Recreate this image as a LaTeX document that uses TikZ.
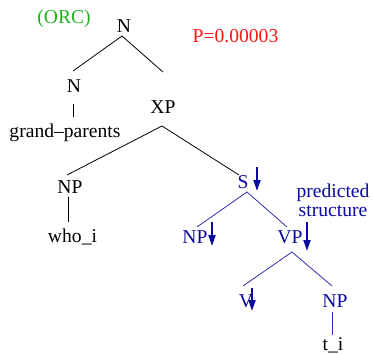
\documentclass[tikz,border=0pt]{standalone}
\usepackage{fontspec}
\setmainfont{Liberation Serif}
\usetikzlibrary{arrows.meta}
\definecolor{predblue}{RGB}{10,10,160}
\definecolor{orcgreen}{RGB}{30,180,30}
\definecolor{probred}{RGB}{255,20,20}
\begin{document}
\begin{tikzpicture}[x=1pt,y=-1pt,
  lbl/.style={inner sep=0pt,anchor=base,font=\fontsize{19.6}{22}\selectfont},
  pred/.style={lbl,text=predblue},
  branch/.style={draw=black,line width=0.8pt},
  predbranch/.style={draw=predblue!85!white,line width=0.8pt},
  foot/.style={draw=predblue,line width=2pt,-{Triangle[length=11pt,width=7pt]}}]
\useasboundingbox (0,0) rectangle (373,354);

% labels
\node[lbl,text=orcgreen] (orc) at (64,23.5) {(ORC)};
\node[lbl,text=probred] (prob) at (235.5,42) {P=0.00003};

% committed part of the tree
\node[lbl] (nroot) at (124,32) {N};
\node[lbl] (nchild) at (74,92) {N};
\node[lbl] (gp) at (65,137.5) {grand--parents};
\node[lbl] (xp) at (163,113) {XP};
\node[lbl] (npw) at (70,193) {NP};
\node[lbl] (who) at (72.5,242) {who\_i};

% predicted part
\node[pred] (s) at (243,188) {S};
\node[pred] (nps) at (195,243) {NP};
\node[pred] (vp) at (290,243) {VP};
\node[pred] (v) at (246,307) {V};
\node[pred] (npo) at (335,307) {NP};
\node[lbl] (trace) at (333,350) {t\_i};
\node[pred,align=center,anchor=north] (note) at (333,183.5) {predicted\\[-3pt]structure};

% branch end points
\coordinate (nroot-b) at (122,36);
\coordinate (nchild-t) at (73,71);
\coordinate (xp-t) at (163,72);
\coordinate (nchild-b) at (73,104);
\coordinate (gp-t) at (73,117);
\coordinate (xp-b) at (162,126);
\coordinate (npw-t) at (67,175);
\coordinate (s-t) at (239,175);
\coordinate (npw-b) at (68,197);
\coordinate (who-t) at (68,222);
\coordinate (s-b) at (247,192);
\coordinate (nps-t) at (197,227);
\coordinate (vp-t) at (287,227);
\coordinate (vp-b) at (292,252);
\coordinate (v-t) at (243,286);
\coordinate (npo-t) at (332,286);
\coordinate (npo-b) at (332,312);
\coordinate (trace-t) at (332,335);

\draw[branch] (nchild-t) -- (nroot-b) -- (xp-t);
\draw[branch] (nchild-b) -- (gp-t);
\draw[branch] (npw-t) -- (xp-b) -- (s-t);
\draw[branch] (npw-b) -- (who-t);
\draw[predbranch] (nps-t) -- (s-b) -- (vp-t);
\draw[predbranch] (v-t) -- (vp-b) -- (npo-t);
\draw[predbranch] (npo-b) -- (trace-t);

% substitution arrows
\coordinate (s-a1) at (257,167);   \coordinate (s-a2) at (257,191);
\coordinate (nps-a1) at (212,222); \coordinate (nps-a2) at (212,246);
\coordinate (vp-a1) at (307,222);  \coordinate (vp-a2) at (307,251);
\coordinate (v-a1) at (252,288);   \coordinate (v-a2) at (252,311);
\draw[foot] (s-a1) -- (s-a2);
\draw[foot] (nps-a1) -- (nps-a2);
\draw[foot] (vp-a1) -- (vp-a2);
\draw[foot] (v-a1) -- (v-a2);
\end{tikzpicture}
\end{document}
